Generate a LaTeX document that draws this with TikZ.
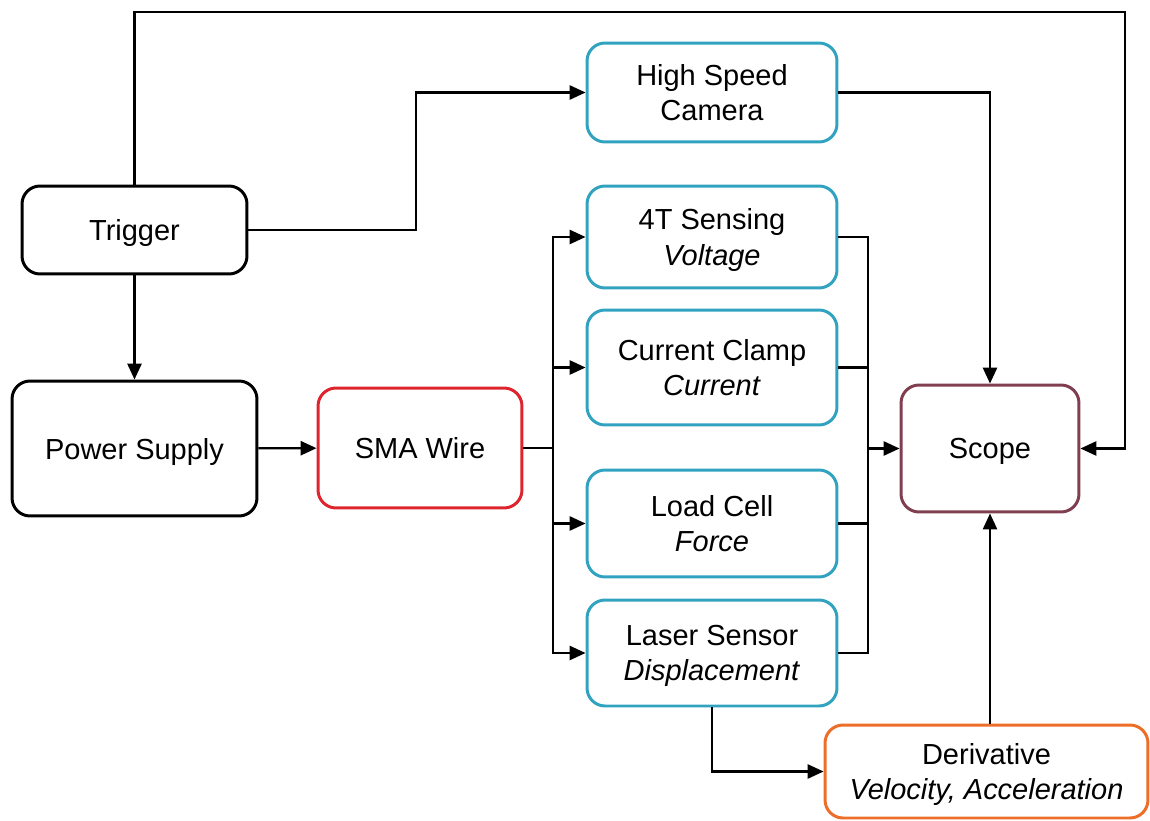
\documentclass[tikz,border=0pt]{standalone}
\usepackage{fontspec}
\setmainfont{Liberation Sans}
\usetikzlibrary{arrows.meta}
\definecolor{sensorblue}{RGB}{49,163,193}
\definecolor{wirered}{RGB}{222,37,45}
\definecolor{scopemaroon}{RGB}{127,63,80}
\definecolor{derivorange}{RGB}{236,110,40}
\begin{document}
\begin{tikzpicture}[x=0.02cm, y=-0.02cm,
  block/.style={draw, rounded corners=0.36cm, line width=1.7pt, align=center,
    font=\fontsize{16.5}{20}\selectfont, inner sep=0pt, text depth=0pt},
  plainbox/.style={block, draw=black},
  sensor/.style={block, draw=sensorblue, minimum width=5cm},
  arr/.style={line width=1.25pt, -{Triangle[length=9pt,width=8pt]}},
  ln/.style={line width=1.25pt}]
\useasboundingbox (0,0) rectangle (1150,821);

% blocks
\node[plainbox, minimum width=4.5cm, minimum height=1.76cm] (trig) at (134.5,230) {Trigger};
\node[plainbox, minimum width=4.9cm, minimum height=2.7cm] (psu) at (134.5,448.5) {Power Supply};
\node[block, draw=wirered, minimum width=4.08cm, minimum height=2.4cm] (sma) at (420,448) {SMA Wire};
\node[sensor, minimum height=1.98cm] (cam) at (712,92.5) {High Speed\\Camera};
\node[sensor, minimum height=2.04cm] (s4t) at (712,237) {4T Sensing\\\textit{Voltage}};
\node[sensor, minimum height=2.3cm] (clamp) at (712,367.5) {Current Clamp\\\textit{Current}};
\node[sensor, minimum height=2.14cm] (load) at (712,523.5) {Load Cell\\\textit{Force}};
\node[sensor, minimum height=2.12cm] (laser) at (712,653) {Laser Sensor\\\textit{Displacement}};
\node[block, draw=scopemaroon, minimum width=3.56cm, minimum height=2.54cm] (scope) at (990,448.5) {Scope};
\node[block, draw=derivorange, minimum width=6.46cm, minimum height=1.86cm] (deriv) at (986.5,771.5) {Derivative\\\textit{Velocity, Acceleration}};

% routing columns
\coordinate (topR) at (1125,12);
\coordinate (jx) at (416,0);
\coordinate (sx) at (553,0);
\coordinate (mx) at (868,0);

% trigger lines
\draw[arr] (trig.north) |- (topR) |- (scope.east);
\draw[arr] (trig.east) -- (trig.east -| jx) |- (cam.west);
\draw[arr] (trig) -- (psu);
\draw[arr] (psu) -- (sma);

% fan-out to sensors
\draw[ln] (sma.east) -- (sma.east -| sx);
\foreach \s in {s4t,clamp,load,laser}
  \draw[arr] (sma.east -| sx) |- (\s.west);

% sensors into scope
\foreach \s in {s4t,clamp,load,laser}
  \draw[ln] (\s.east) -| (scope.west -| mx);
\draw[arr] (scope.west -| mx) -- (scope.west);
\draw[arr] (cam.east) -| (scope.north);

% derivative path
\draw[arr] (laser.south) |- (deriv.west);
\draw[arr] (scope.south |- deriv.north) -- (scope.south);
\end{tikzpicture}
\end{document}
